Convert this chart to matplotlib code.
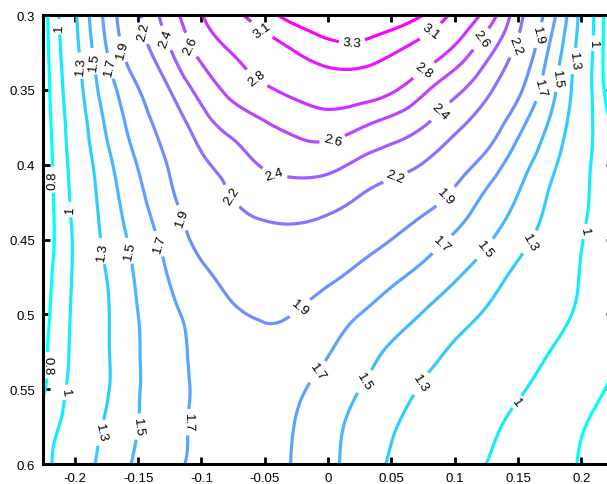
import matplotlib.pyplot as plt
import matplotlib.tri as mtri
import numpy as np
from matplotlib.colors import Normalize

plt.rcParams['font.family'] = ['Liberation Sans', 'DejaVu Sans']

# grid the field was read on
x_vals = [-0.225, -0.2, -0.175, -0.15, -0.125, -0.1, -0.075, -0.05, -0.025, 0.0,
          0.025, 0.05, 0.075, 0.1, 0.125, 0.15, 0.175, 0.2, 0.225]
y_vals = [0.3, 0.325, 0.35, 0.375, 0.4, 0.425, 0.45, 0.475, 0.5, 0.525, 0.55, 0.575, 0.6]

# values, one row per y (top to bottom)
row_030 = [0.72, 1.27, 1.76, 2.17, 2.51, 2.79, 3.03, 3.23, 3.38, 3.44, 3.46, 3.42, 3.30, 3.04, 2.73, 2.28, 1.80, 1.24, 0.60]
row_0325 = [0.71, 1.23, 1.69, 2.07, 2.38, 2.65, 2.81, 2.96, 3.10, 3.21, 3.22, 3.12, 2.96, 2.74, 2.46, 2.13, 1.67, 1.20, 0.60]
row_035 = [0.70, 1.18, 1.60, 1.89, 2.20, 2.47, 2.66, 2.77, 2.86, 2.93, 2.92, 2.83, 2.64, 2.45, 2.25, 1.95, 1.58, 1.16, 0.65]
row_0375 = [0.69, 1.13, 1.52, 1.79, 2.03, 2.30, 2.46, 2.57, 2.65, 2.69, 2.61, 2.51, 2.40, 2.24, 2.04, 1.75, 1.47, 1.13, 0.78]
row_040 = [0.67, 1.09, 1.44, 1.71, 1.92, 2.15, 2.30, 2.42, 2.46, 2.45, 2.36, 2.28, 2.19, 2.02, 1.82, 1.59, 1.36, 1.08, 0.83]
row_0425 = [0.67, 1.06, 1.39, 1.64, 1.86, 2.03, 2.19, 2.27, 2.29, 2.26, 2.17, 2.07, 1.97, 1.83, 1.65, 1.48, 1.27, 1.05, 0.85]
row_045 = [0.68, 1.03, 1.35, 1.57, 1.78, 1.96, 2.08, 2.14, 2.14, 2.09, 2.00, 1.90, 1.79, 1.67, 1.53, 1.37, 1.20, 1.01, 0.86]
row_0475 = [0.71, 1.03, 1.30, 1.53, 1.71, 1.85, 1.97, 2.03, 2.01, 1.94, 1.84, 1.74, 1.64, 1.52, 1.39, 1.25, 1.12, 0.99, 0.87]
row_050 = [0.73, 1.04, 1.28, 1.50, 1.66, 1.77, 1.87, 1.92, 1.89, 1.79, 1.70, 1.60, 1.49, 1.38, 1.28, 1.17, 1.07, 0.97, 0.88]
row_0525 = [0.76, 1.05, 1.28, 1.49, 1.63, 1.74, 1.79, 1.85, 1.80, 1.71, 1.59, 1.47, 1.37, 1.27, 1.18, 1.09, 1.00, 0.91, 0.83]
row_055 = [0.78, 1.07, 1.28, 1.49, 1.62, 1.74, 1.78, 1.79, 1.73, 1.62, 1.50, 1.39, 1.28, 1.19, 1.10, 1.02, 0.94, 0.86, 0.78]
row_0575 = [0.90, 1.11, 1.33, 1.50, 1.63, 1.74, 1.77, 1.77, 1.69, 1.56, 1.44, 1.32, 1.22, 1.13, 1.04, 0.96, 0.89, 0.81, 0.74]
row_060 = [0.94, 1.16, 1.37, 1.53, 1.65, 1.74, 1.77, 1.76, 1.68, 1.55, 1.41, 1.28, 1.19, 1.09, 1.00, 0.93, 0.86, 0.79, 0.72]

levels = [0.8, 1.0, 1.3, 1.5, 1.7, 1.9, 2.2, 2.4, 2.6, 2.8, 3.1, 3.3]

x_ticks = [-0.2, -0.15, -0.1, -0.05, 0, 0.05, 0.1, 0.15, 0.2]
x_tick_labels = ['-0.2', '-0.15', '-0.1', '-0.05', '0', '0.05', '0.1', '0.15', '0.2']
y_ticks = [0.3, 0.35, 0.4, 0.45, 0.5, 0.55, 0.6]
y_tick_labels = ['0.3', '0.35', '0.4', '0.45', '0.5', '0.55', '0.6']

# where the labels sit on the lines
label_pts = [
    (-0.216, 0.308), (-0.197, 0.334), (-0.186, 0.331), (-0.172, 0.334), (-0.163, 0.323),
    (-0.146, 0.311), (-0.130, 0.316), (-0.111, 0.321), (-0.056, 0.314), (0.019, 0.319),
    (0.081, 0.311), (0.124, 0.318), (0.150, 0.321), (0.169, 0.314), (0.213, 0.319),
    (0.197, 0.331), (0.185, 0.343), (0.167, 0.349), (-0.059, 0.345), (0.079, 0.341),
    (0.004, 0.385), (0.094, 0.369), (-0.043, 0.408), (-0.080, 0.423), (0.055, 0.412),
    (-0.117, 0.436), (0.095, 0.423), (-0.218, 0.410), (-0.204, 0.430), (-0.180, 0.458),
    (-0.160, 0.458), (-0.138, 0.454), (-0.022, 0.496), (0.091, 0.454), (0.126, 0.458),
    (0.162, 0.453), (0.205, 0.445), (-0.220, 0.534), (-0.208, 0.552), (-0.180, 0.579),
    (-0.150, 0.575), (-0.109, 0.572), (-0.009, 0.538), (0.029, 0.545), (0.071, 0.545),
    (0.150, 0.559),
]

Z = np.array([row_030, row_0325, row_035, row_0375, row_040, row_0425, row_045,
              row_0475, row_050, row_0525, row_055, row_0575, row_060])
X, Y = np.meshgrid(x_vals, y_vals)

# let matplotlib's tri refiner smooth the coarse grid for drawing
triang = mtri.Triangulation(X.ravel(), Y.ravel())
refiner = mtri.UniformTriRefiner(triang)
tri_fine, z_fine = refiner.refine_field(Z.ravel(), subdiv=3)

fig = plt.figure(figsize=(6.07, 4.85), dpi=100)
# right part of the axes runs off the picture, like the original
ax = fig.add_axes([0.0712, 0.0412, 0.9386, 0.9258])

cs = ax.tricontour(tri_fine, z_fine, levels=levels, cmap='cool',
                   norm=Normalize(vmin=0.8, vmax=3.3), linewidths=2.3)
ax.clabel(cs, fmt='%g', fontsize=9.5, colors='k', manual=label_pts,
          inline=True, inline_spacing=4)

ax.set_xlim(-0.225, 0.225)
ax.set_ylim(0.6, 0.3)
ax.set_xticks(x_ticks)
ax.set_xticklabels(x_tick_labels)
ax.set_yticks(y_ticks)
ax.set_yticklabels(y_tick_labels)

ax.tick_params(direction='in', top=True, right=True, length=5, width=2,
               labelsize=9.5, pad=6)
for side in ['left', 'bottom', 'top', 'right']:
    ax.spines[side].set_linewidth(2.2)

fig.savefig('out.png', dpi=100)
